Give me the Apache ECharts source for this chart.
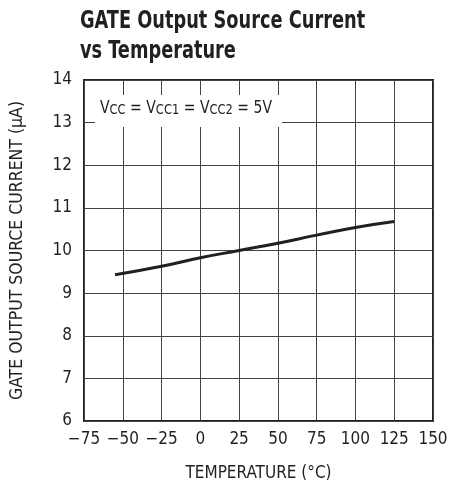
<!DOCTYPE html>
<html>
<head>
<meta charset="utf-8">
<style>
html,body{margin:0;padding:0;background:#fff;}
#chart{width:462px;height:487px;}
</style>
<script src="https://cdn.jsdelivr.net/npm/echarts@6/dist/echarts.min.js"></script>
</head>
<body>
<div id="chart"></div>
<script>
var temperatures = [-55, -25, 0, 25, 50, 75, 100, 125];
var currents = [9.43, 9.63, 9.83, 10.0, 10.17, 10.36, 10.54, 10.68];
var xTicks = [-75, -50, -25, 0, 25, 50, 75, 100, 125, 150];
var yTicks = [6, 7, 8, 9, 10, 11, 12, 13, 14];

var FONT = '"DejaVu Sans Condensed", "Liberation Sans", sans-serif';
var INK = '#231f20';

var chart = echarts.init(document.getElementById('chart'), null, {renderer: 'canvas'});
var series = temperatures.map(function (t, i) { return [t, currents[i]]; });

chart.setOption({
  animation: false,
  backgroundColor: '#fff',
  grid: {
    left: 80, right: 29, top: 80, bottom: 55,
    show: true,
    borderColor: INK,
    borderWidth: 2,
    containLabel: false
  },
  xAxis: {
    type: 'value',
    min: xTicks[0],
    max: xTicks[xTicks.length - 1],
    interval: 25,
    name: 'TEMPERATURE (°C)',
    nameLocation: 'middle',
    nameGap: 44,
    nameTextStyle: {fontFamily: FONT, fontSize: 17, color: INK},
    axisLine: {show: false},
    axisTick: {show: false},
    axisLabel: {
      fontFamily: FONT, fontSize: 17, color: INK, margin: 10,
      formatter: function (v) { return v < 0 ? '\u2212' + Math.abs(v) : String(v); }
    },
    splitLine: {show: true, lineStyle: {color: '#444', width: 1}}
  },
  yAxis: {
    type: 'value',
    min: yTicks[0],
    max: yTicks[yTicks.length - 1],
    interval: 1,
    name: 'GATE OUTPUT SOURCE CURRENT (\u03bcA)',
    nameLocation: 'middle',
    nameGap: 58,
    nameRotate: 90,
    nameTextStyle: {fontFamily: FONT, fontSize: 17.5, color: INK},
    axisLine: {show: false},
    axisTick: {show: false},
    axisLabel: {fontFamily: FONT, fontSize: 17, color: INK, margin: 12},
    splitLine: {show: true, lineStyle: {color: '#444', width: 1}}
  },
  series: [{
    type: 'line',
    data: series,
    smooth: true,
    showSymbol: false,
    lineStyle: {color: INK, width: 3, cap: 'butt'},
    z: 3
  }],
  graphic: [
    {
      type: 'text',
      z: 100,
      x: 80,
      y: 6,
      scaleX: 0.79,
      style: {
        text: 'GATE Output Source Current\nvs Temperature',
        fontFamily: FONT,
        fontWeight: 'bold',
        fontSize: 25,
        lineHeight: 30,
        fill: INK,
        align: 'left',
        verticalAlign: 'top'
      }
    },
    {
      type: 'rect',
      z: 100,
      shape: {x: 95, y: 95, width: 187, height: 32},
      style: {fill: '#fff'}
    },
    {
      type: 'text',
      z: 101,
      x: 100,
      y: 107,
      scaleX: 0.915,
      style: {
        text: '{v|V}{s|CC}{v| = V}{s|CC1}{v| = V}{s|CC2}{v| = 5V}',
        verticalAlign: 'middle',
        align: 'left',
        fill: INK,
        rich: {
          v: {fontFamily: FONT, fontSize: 17, lineHeight: 20, verticalAlign: 'bottom', fill: INK, color: INK},
          s: {fontFamily: FONT, fontSize: 14, lineHeight: 17, verticalAlign: 'bottom', fill: INK, color: INK}
        }
      }
    }
  ]
});
</script>
</body>
</html>
